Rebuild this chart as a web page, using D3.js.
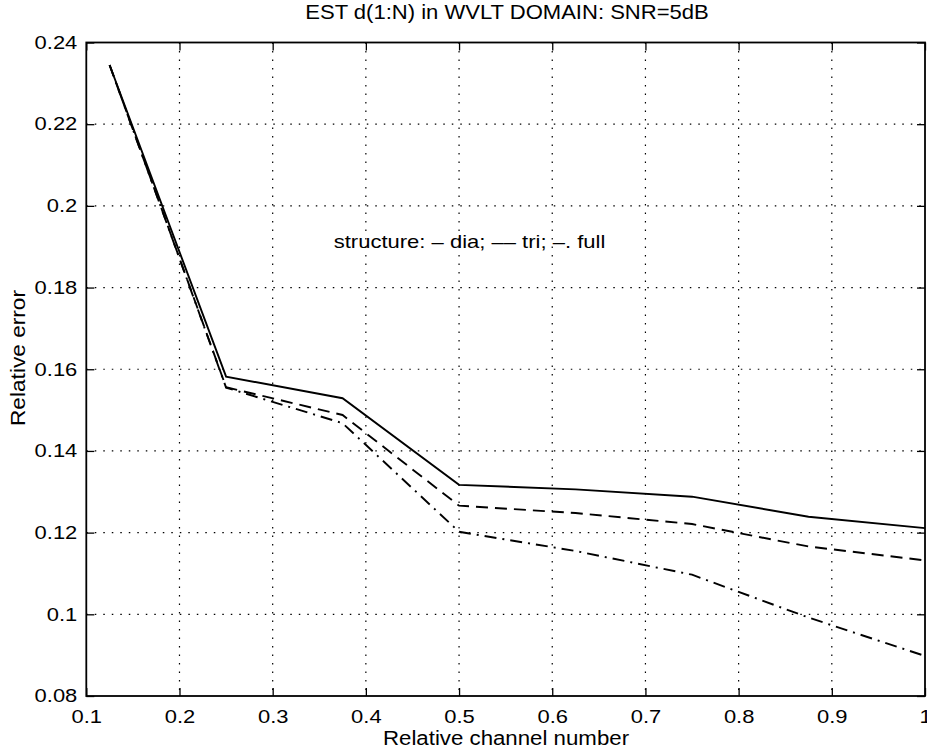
<!DOCTYPE html>
<html><head><meta charset="utf-8">
<script src="https://cdn.jsdelivr.net/npm/d3@7"></script>
<style>body{margin:0;background:#fff}svg{display:block}text{font-family:"Liberation Sans",Arial,sans-serif;fill:#000}</style>
</head><body><svg id="c" width="927" height="753"></svg>
<script>
const channels = [0.125,0.25,0.375,0.5,0.625,0.75,0.875,1.0];
const dia  = [0.2345,0.1582,0.1529,0.1317,0.1306,0.1288,0.1239,0.1211];
const tri  = [0.2345,0.1556,0.1488,0.1266,0.1248,0.1221,0.1166,0.1132];
const full = [0.2345,0.1555,0.1468,0.1202,0.1155,0.1097,0.0992,0.0898];
const xTicks = [0.1,0.2,0.3,0.4,0.5,0.6,0.7,0.8,0.9,1];
const yTicks = [0.08,0.1,0.12,0.14,0.16,0.18,0.2,0.22,0.24];
const xTickLabels = ["0.1","0.2","0.3","0.4","0.5","0.6","0.7","0.8","0.9","1"];
const yTickLabels = ["0.08","0.1","0.12","0.14","0.16","0.18","0.2","0.22","0.24"];

const svg = d3.select("#c");
const L=86.3, R=925, T=42.5, B=696;
const x = d3.scaleLinear().domain([0.1,1]).range([L,R]);
const y = d3.scaleLinear().domain([0.08,0.24]).range([B,T]);

// grid
const g = svg.append("g");
g.selectAll(".gx").data(xTicks.slice(1,-1)).join("line")
  .attr("x1",d=>x(d)).attr("x2",d=>x(d)).attr("y1",T).attr("y2",B)
  .attr("stroke","#000").attr("stroke-width",1.2).attr("stroke-dasharray","1.5,7");
g.selectAll(".gy").data(yTicks.slice(1,-1)).join("line")
  .attr("y1",d=>y(d)).attr("y2",d=>y(d)).attr("x1",L).attr("x2",R)
  .attr("stroke","#000").attr("stroke-width",1.2).attr("stroke-dasharray","1.5,7");

// axes with inward ticks
const tl = 8, tfs = 18, tsx = 1.22;
const xa = svg.append("g").attr("transform",`translate(0,${B})`)
  .call(d3.axisBottom(x).tickValues(xTicks).tickFormat((d,i)=>xTickLabels[i]).tickSizeInner(-tl).tickSizeOuter(0).tickPadding(14))
  .call(a=>a.select(".domain").remove());
xa.selectAll(".tick text").attr("transform",`scale(${tsx},1)`);
svg.append("g").attr("transform",`translate(0,${T})`)
  .call(d3.axisTop(x).tickValues(xTicks).tickFormat("").tickSizeInner(-tl).tickSizeOuter(0))
  .call(a=>a.select(".domain").remove());
const ya = svg.append("g").attr("transform",`translate(${L},0)`)
  .call(d3.axisLeft(y).tickValues(yTicks).tickFormat((d,i)=>yTickLabels[i]).tickSizeInner(-tl).tickSizeOuter(0).tickPadding(9))
  .call(a=>a.select(".domain").remove());
ya.selectAll(".tick text").attr("x",-9/tsx).attr("transform",`scale(${tsx},1)`);
svg.append("g").attr("transform",`translate(${R},0)`)
  .call(d3.axisRight(y).tickValues(yTicks).tickFormat("").tickSizeInner(-tl).tickSizeOuter(0))
  .call(a=>a.select(".domain").remove());
svg.selectAll(".tick line").attr("stroke","#000").attr("stroke-width",1.3);
svg.selectAll(".tick text").style("font-size",tfs+"px").style("font-family",'"Liberation Sans",Arial,sans-serif').attr("fill","#000");

svg.append("rect").attr("x",L).attr("y",T).attr("width",R-L).attr("height",B-T)
  .attr("fill","none").attr("stroke","#000").attr("stroke-width",1.8);

// lines
const line = d3.line().x((d,i)=>x(channels[i])).y(d=>y(d));
const series = [
  {v:dia, dash:null},
  {v:tri, dash:"12,7"},
  {v:full, dash:"12,6,2,6"}
];
series.forEach(s=>{
  svg.append("path").datum(s.v).attr("d",line).attr("fill","none")
    .attr("stroke","#000").attr("stroke-width",1.9)
    .attr("stroke-dasharray",s.dash);
});

// texts
function label(txt, cx, cy, fs, sx, rot){
  svg.append("text").attr("transform",`translate(${cx},${cy}) rotate(${rot||0}) scale(${sx},1)`)
    .attr("text-anchor","middle").style("font-size",fs+"px").text(txt);
}
label("EST d(1:N) in WVLT DOMAIN: SNR=5dB", 507, 19, 21, 1.05);
label("structure: – dia; –– tri; –. full", 469.5, 248, 18.5, 1.19);
label("Relative channel number", 506, 745, 21, 1.06);
label("Relative error", 25, 358, 21, 1.08, -90);
</script></body></html>
